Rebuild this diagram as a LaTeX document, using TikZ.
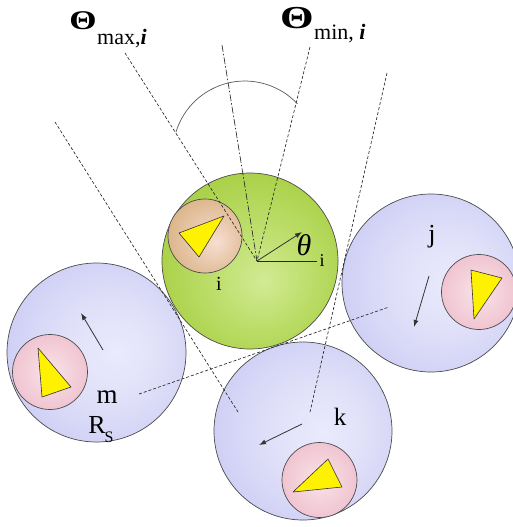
\documentclass[tikz,border=0pt]{standalone}
\usepackage{fontspec}
\usepackage{graphicx}
\setmainfont{Liberation Serif}
\usetikzlibrary{arrows.meta}
\pgfdeclareradialshading{greenball}{\pgfpoint{4bp}{-6bp}}{rgb(0bp)=(0.82,0.92,0.58); rgb(14bp)=(0.74,0.87,0.42); rgb(50bp)=(0.55,0.74,0.07)}
\pgfdeclareradialshading{blueball}{\pgfpoint{6bp}{0bp}}{rgb(0bp)=(0.92,0.92,0.99); rgb(16bp)=(0.87,0.87,0.975); rgb(50bp)=(0.71,0.71,0.94)}
\pgfdeclareradialshading{pinkball}{\pgfpoint{0bp}{0bp}}{rgb(0bp)=(0.98,0.89,0.91); rgb(50bp)=(0.90,0.65,0.73)}
\pgfdeclareradialshading{brownball}{\pgfpoint{8bp}{-4bp}}{rgb(0bp)=(0.97,0.87,0.82); rgb(50bp)=(0.78,0.60,0.34)}
\tikzset{
  ball/.style={circle, draw=black!70, line width=0.7pt, inner sep=0pt},
  tri/.style={draw=black!80, fill=yellow, line width=0.6pt, line join=round},
  guide/.style={draw=black!85, line width=0.65pt, dash pattern=on 3pt off 2pt},
  guidedot/.style={draw=black!85, line width=0.65pt, dash pattern=on 7pt off 2pt on 1.5pt off 2pt},
  mv/.style={draw=black!80, line width=0.8pt, -{Latex[length=7pt,width=5pt]}},
  lbl/.style={inner sep=0pt, font=\fontsize{25}{28}\selectfont},
  arcline/.style={draw=black!65, line width=0.7pt},
}
\begin{document}
\begin{tikzpicture}[x=1pt, y=-1pt]
\useasboundingbox (0,0) rectangle (513,527);
% balls
\node[ball, shading=greenball, minimum size=176pt] (gi) at (250,261) {};
\node[ball, shading=brownball, minimum size=74pt] (bi) at (205,236) {};
\node[ball, shading=blueball, minimum size=178pt] (bj) at (431,283) {};
\node[ball, shading=pinkball, minimum size=75pt] (pj) at (479,292) {};
\node[ball, shading=blueball, minimum size=179pt] (bm) at (96.5,352.5) {};
\node[ball, shading=pinkball, minimum size=75pt] (pm) at (50,372) {};
\node[ball, shading=blueball, minimum size=178pt] (bk) at (303,431) {};
\node[ball, shading=pinkball, minimum size=75pt] (pk) at (319.5,480) {};
% triangles
\draw[tri] (179,233) -- (224,216) -- (199,257) -- cycle;
\draw[tri] (471,270) -- (502,278) -- (474,319) -- cycle;
\draw[tri] (38,348) -- (71,387) -- (42,397) -- cycle;
\draw[tri] (293,492) -- (328,459) -- (342,487) -- cycle;
% coordinates
\coordinate (O) at (257,261);
\coordinate (g1) at (125,53);
\coordinate (g2) at (222,45);
\coordinate (g3) at (310,47);
\coordinate (g4a) at (387,73);
\coordinate (g4b) at (310,412);
\coordinate (g5a) at (55,122);
\coordinate (g5b) at (238,412);
\coordinate (g6a) at (139,394);
\coordinate (g6b) at (389,307);
\coordinate (arcs) at (176,132);
% guide lines
\draw[guide] (g1) -- (O);
\draw[guidedot] (g2) -- (O);
\draw[guide] (g3) -- (O);
\draw[guide] (g4a) -- (g4b);
\draw[guide] (g5a) -- (g5b);
\draw[guide] (g6a) -- (g6b);
\draw[arcline] (arcs) arc[start angle=163, end angle=43, radius=72pt];
% theta
\coordinate (th) at (302,232);
\coordinate (hx) at (317,261);
\draw[mv] (O) -- (th);
\draw[draw=black!85, line width=0.7pt] (O) -- (hx);
% motion arrows
\coordinate (ja) at (429,276); \coordinate (jb) at (414,327);
\coordinate (ma) at (103,350); \coordinate (mb) at (81,313);
\coordinate (ka) at (302,424); \coordinate (kb) at (259,445);
\draw[mv] (ja) -- (jb);
\draw[mv] (ma) -- (mb);
\draw[mv] (ka) -- (kb);
% labels
\node[lbl, font=\fontsize{27}{30}\selectfont\bfseries] (Tmax) at (83,21) {\scalebox{1.3}[1]{Θ}};
\node[lbl, anchor=base west, font=\fontsize{22}{24}\selectfont] (Tmaxs) at (97,45) {max,\textbf{\textit{i}}};
\node[lbl, font=\fontsize{32}{34}\selectfont\bfseries] (Tmin) at (297,18) {\scalebox{1.35}[1]{Θ}};
\node[lbl, anchor=base west, font=\fontsize{22}{24}\selectfont] (Tmins) at (314,40) {min, \textbf{\textit{i}}};
\node[lbl, font=\fontsize{26}{28}\selectfont] (lj) at (432,237) {j};
\node[lbl, font=\fontsize{20}{22}\selectfont] (li) at (219,284) {i};
\node[lbl, font=\fontsize{30}{32}\selectfont\itshape] (lth) at (304,245) {θ};
\node[lbl, font=\fontsize{18}{20}\selectfont] (lthi) at (322,261) {i};
\node[lbl] (lk) at (340,417) {k};
\node[lbl, font=\fontsize{27}{29}\selectfont] (lm) at (107,397) {m};
\node[lbl, font=\fontsize{26}{28}\selectfont] (lR) at (97,425) {R};
\node[lbl, font=\fontsize{16}{18}\selectfont] (lS) at (109,437) {S};
\end{tikzpicture}
\end{document}
